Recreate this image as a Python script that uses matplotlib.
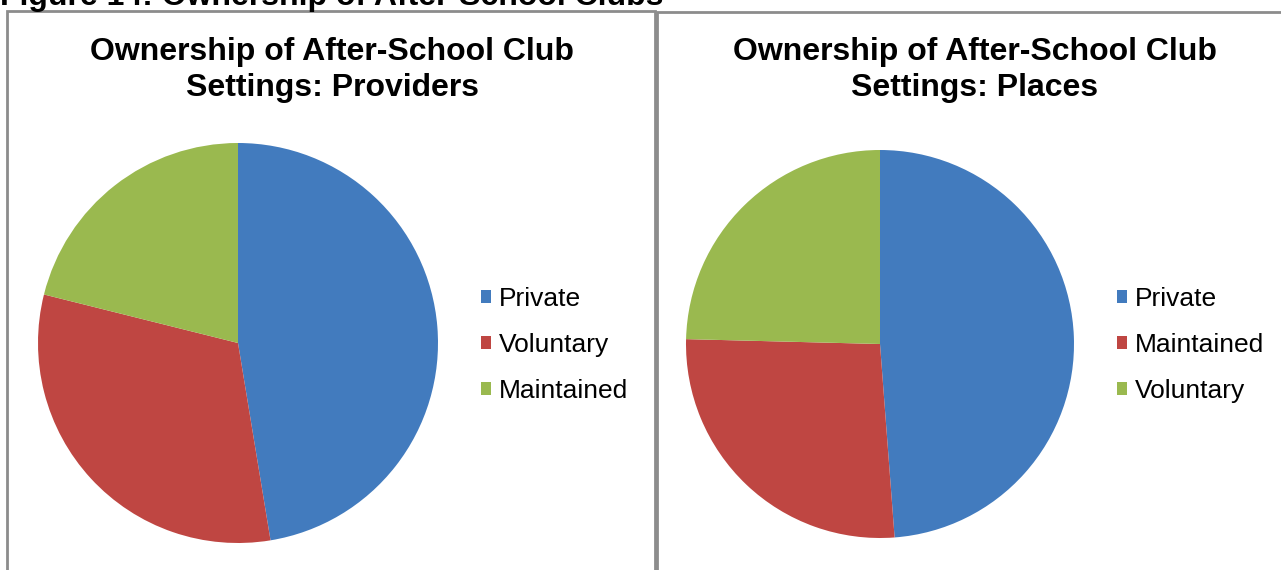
import matplotlib.pyplot as plt
from matplotlib.patches import Rectangle

plt.rcParams['font.family'] = ['Liberation Sans', 'DejaVu Sans']

# shares read as percentages of each pie
prov_labels = ['Private', 'Voluntary', 'Maintained']
prov_values = [47.4, 31.5, 21.1]
prov_colors = ['#427BBE', '#BF4642', '#9AB94F']

place_labels = ['Private', 'Maintained', 'Voluntary']
place_values = [48.8, 26.6, 24.6]
place_colors = ['#427BBE', '#BF4642', '#9AB94F']

W, H = 1281, 570
fig = plt.figure(figsize=(W / 100, H / 100), dpi=100)


def px(x, y):
    # pixel position (top-left origin) -> figure fraction
    return x / W, 1 - y / H


# caption above the panels (partly off the top edge)
fig.text(0, 1 - 5 / H, 'Figure 14: Ownership of After-School Clubs',
         fontsize=23, fontweight='bold', ha='left', va='baseline')

# panel frames
for x0, y0, x1 in [(7, 11, 655), (657, 12, 1300)]:
    fx0, fy0 = px(x0, y0)
    fx1, _ = px(x1, 0)
    fig.patches.append(Rectangle((fx0, -0.1), fx1 - fx0, fy0 + 0.1,
                                 transform=fig.transFigure, fill=False,
                                 edgecolor='#8c8c8c', linewidth=2))


def draw_pie(cx, cy, r, values, labels, colors, title, tcx, leg_x):
    x0, y1 = px(cx - r, cy + r)
    ax = fig.add_axes([x0, y1, 2 * r / W, 2 * r / H])
    wedges, _ = ax.pie(values, colors=colors, startangle=90, counterclock=False,
                       radius=1, wedgeprops=dict(linewidth=0))
    ax.set_xlim(-1, 1)
    ax.set_ylim(-1, 1)
    ax.set_aspect('equal')
    ax.axis('off')
    tx, ty = px(tcx, 70)
    fig.text(tx, ty, title, fontsize=23, fontweight='bold', ha='center',
             va='center', linespacing=1.3)
    lx, ly = px(leg_x, 345)
    fig.legend(wedges, labels, loc='center left', bbox_to_anchor=(lx, ly),
               frameon=False, fontsize=19, handlelength=0.38, handleheight=0.38,
               handletextpad=0.3, labelspacing=0.85, borderpad=0)


draw_pie(238, 343, 200, prov_values, prov_labels, prov_colors,
         'Ownership of After-School Club\nSettings: Providers', 332, 468)
draw_pie(880, 344, 194, place_values, place_labels, place_colors,
         'Ownership of After-School Club\nSettings: Places', 975, 1104)

fig.savefig('out.png', dpi=100)
